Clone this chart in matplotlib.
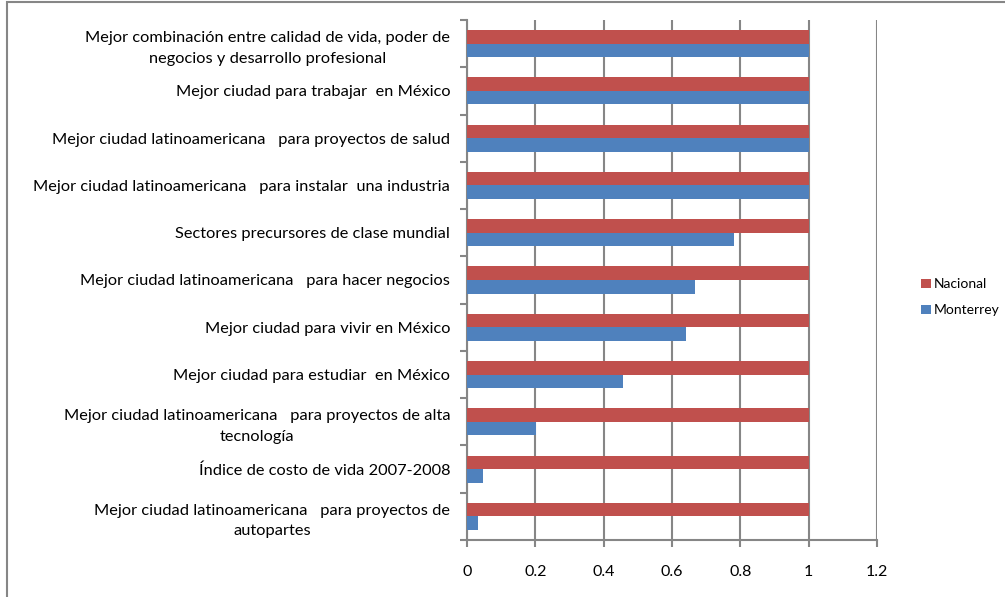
"""Ranking de Monterrey vs. nacional - barras horizontales"""

import matplotlib
matplotlib.use("Agg")
import matplotlib.pyplot as plt
from matplotlib.patches import Rectangle
import numpy as np

plt.rcParams["font.family"] = ["Lato", "DejaVu Sans"]

# categorías de arriba hacia abajo
categorias = [
    "Mejor combinación entre calidad de vida, poder de\nnegocios y desarrollo profesional",
    "Mejor ciudad para trabajar  en México",
    "Mejor ciudad latinoamericana   para proyectos de salud",
    "Mejor ciudad latinoamericana   para instalar  una industria",
    "Sectores precursores de clase mundial",
    "Mejor ciudad latinoamericana   para hacer negocios",
    "Mejor ciudad para vivir en México",
    "Mejor ciudad para estudiar  en México",
    "Mejor ciudad latinoamericana   para proyectos de alta\ntecnología",
    "Índice de costo de vida 2007-2008",
    "Mejor ciudad latinoamericana   para proyectos de\nautopartes",
]
nacional = [1, 1, 1, 1, 1, 1, 1, 1, 1, 1, 1]
monterrey = [1, 1, 1, 1, 0.78, 0.667, 0.64, 0.457, 0.203, 0.047, 0.031]
x_ticks = [0, 0.2, 0.4, 0.6, 0.8, 1, 1.2]

red = "#C0504D"
blue = "#4F81BD"
gray = "#868686"

fig = plt.figure(figsize=(10.05, 5.97), dpi=100)
ax = fig.add_axes([467 / 1005, 1 - 540 / 597, 410 / 1005, 520 / 597])

n = len(categorias)
y = np.arange(n)[::-1]  # primera categoría arriba
h = 1 / 3.5  # gap width 150%

ax.barh(y + h / 2, nacional, height=h, color=red, label="Nacional", zorder=3)
ax.barh(y - h / 2, monterrey, height=h, color=blue, label="Monterrey", zorder=3)

ax.set_xlim(0, 1.2)
ax.set_ylim(-0.5, n - 0.5)
ax.set_xticks(x_ticks)
ax.set_xticklabels(["0", "0.2", "0.4", "0.6", "0.8", "1", "1.2"], fontsize=11.5)
ax.grid(axis="x", color=gray, linewidth=1.5, zorder=0)

# etiquetas de categoría sin marcas, marcas en los límites
ax.set_yticks(y)
ax.set_yticklabels(categorias, fontsize=11.8, multialignment="center", linespacing=1.6)
ax.tick_params(axis="y", length=0, pad=12)
ax.set_yticks(np.arange(n + 1) - 0.5, minor=True)
ax.tick_params(axis="y", which="minor", length=5, width=1.5, color=gray, direction="out")
ax.tick_params(axis="x", length=5, width=1.5, color=gray, pad=13)

for s in ["top", "right"]:
    ax.spines[s].set_visible(False)
for s in ["left", "bottom"]:
    ax.spines[s].set_color(gray)
    ax.spines[s].set_linewidth(1.5)

# leyenda: Nacional arriba
handles, labels = ax.get_legend_handles_labels()
fig.legend(handles, labels, loc="center left", bbox_to_anchor=(0.904, 0.502),
           frameon=False, fontsize=10, handlelength=0.7, handleheight=0.7,
           handletextpad=0.25, labelspacing=1.0)

# marco exterior del gráfico
fig.add_artist(Rectangle((7 / 1005, -0.1), 1.2, 1 - 2 / 597 + 0.1,
                         transform=fig.transFigure, fill=False,
                         edgecolor=gray, linewidth=1.5))

fig.savefig("out.png", dpi=100, facecolor="white")
plt.close(fig)
